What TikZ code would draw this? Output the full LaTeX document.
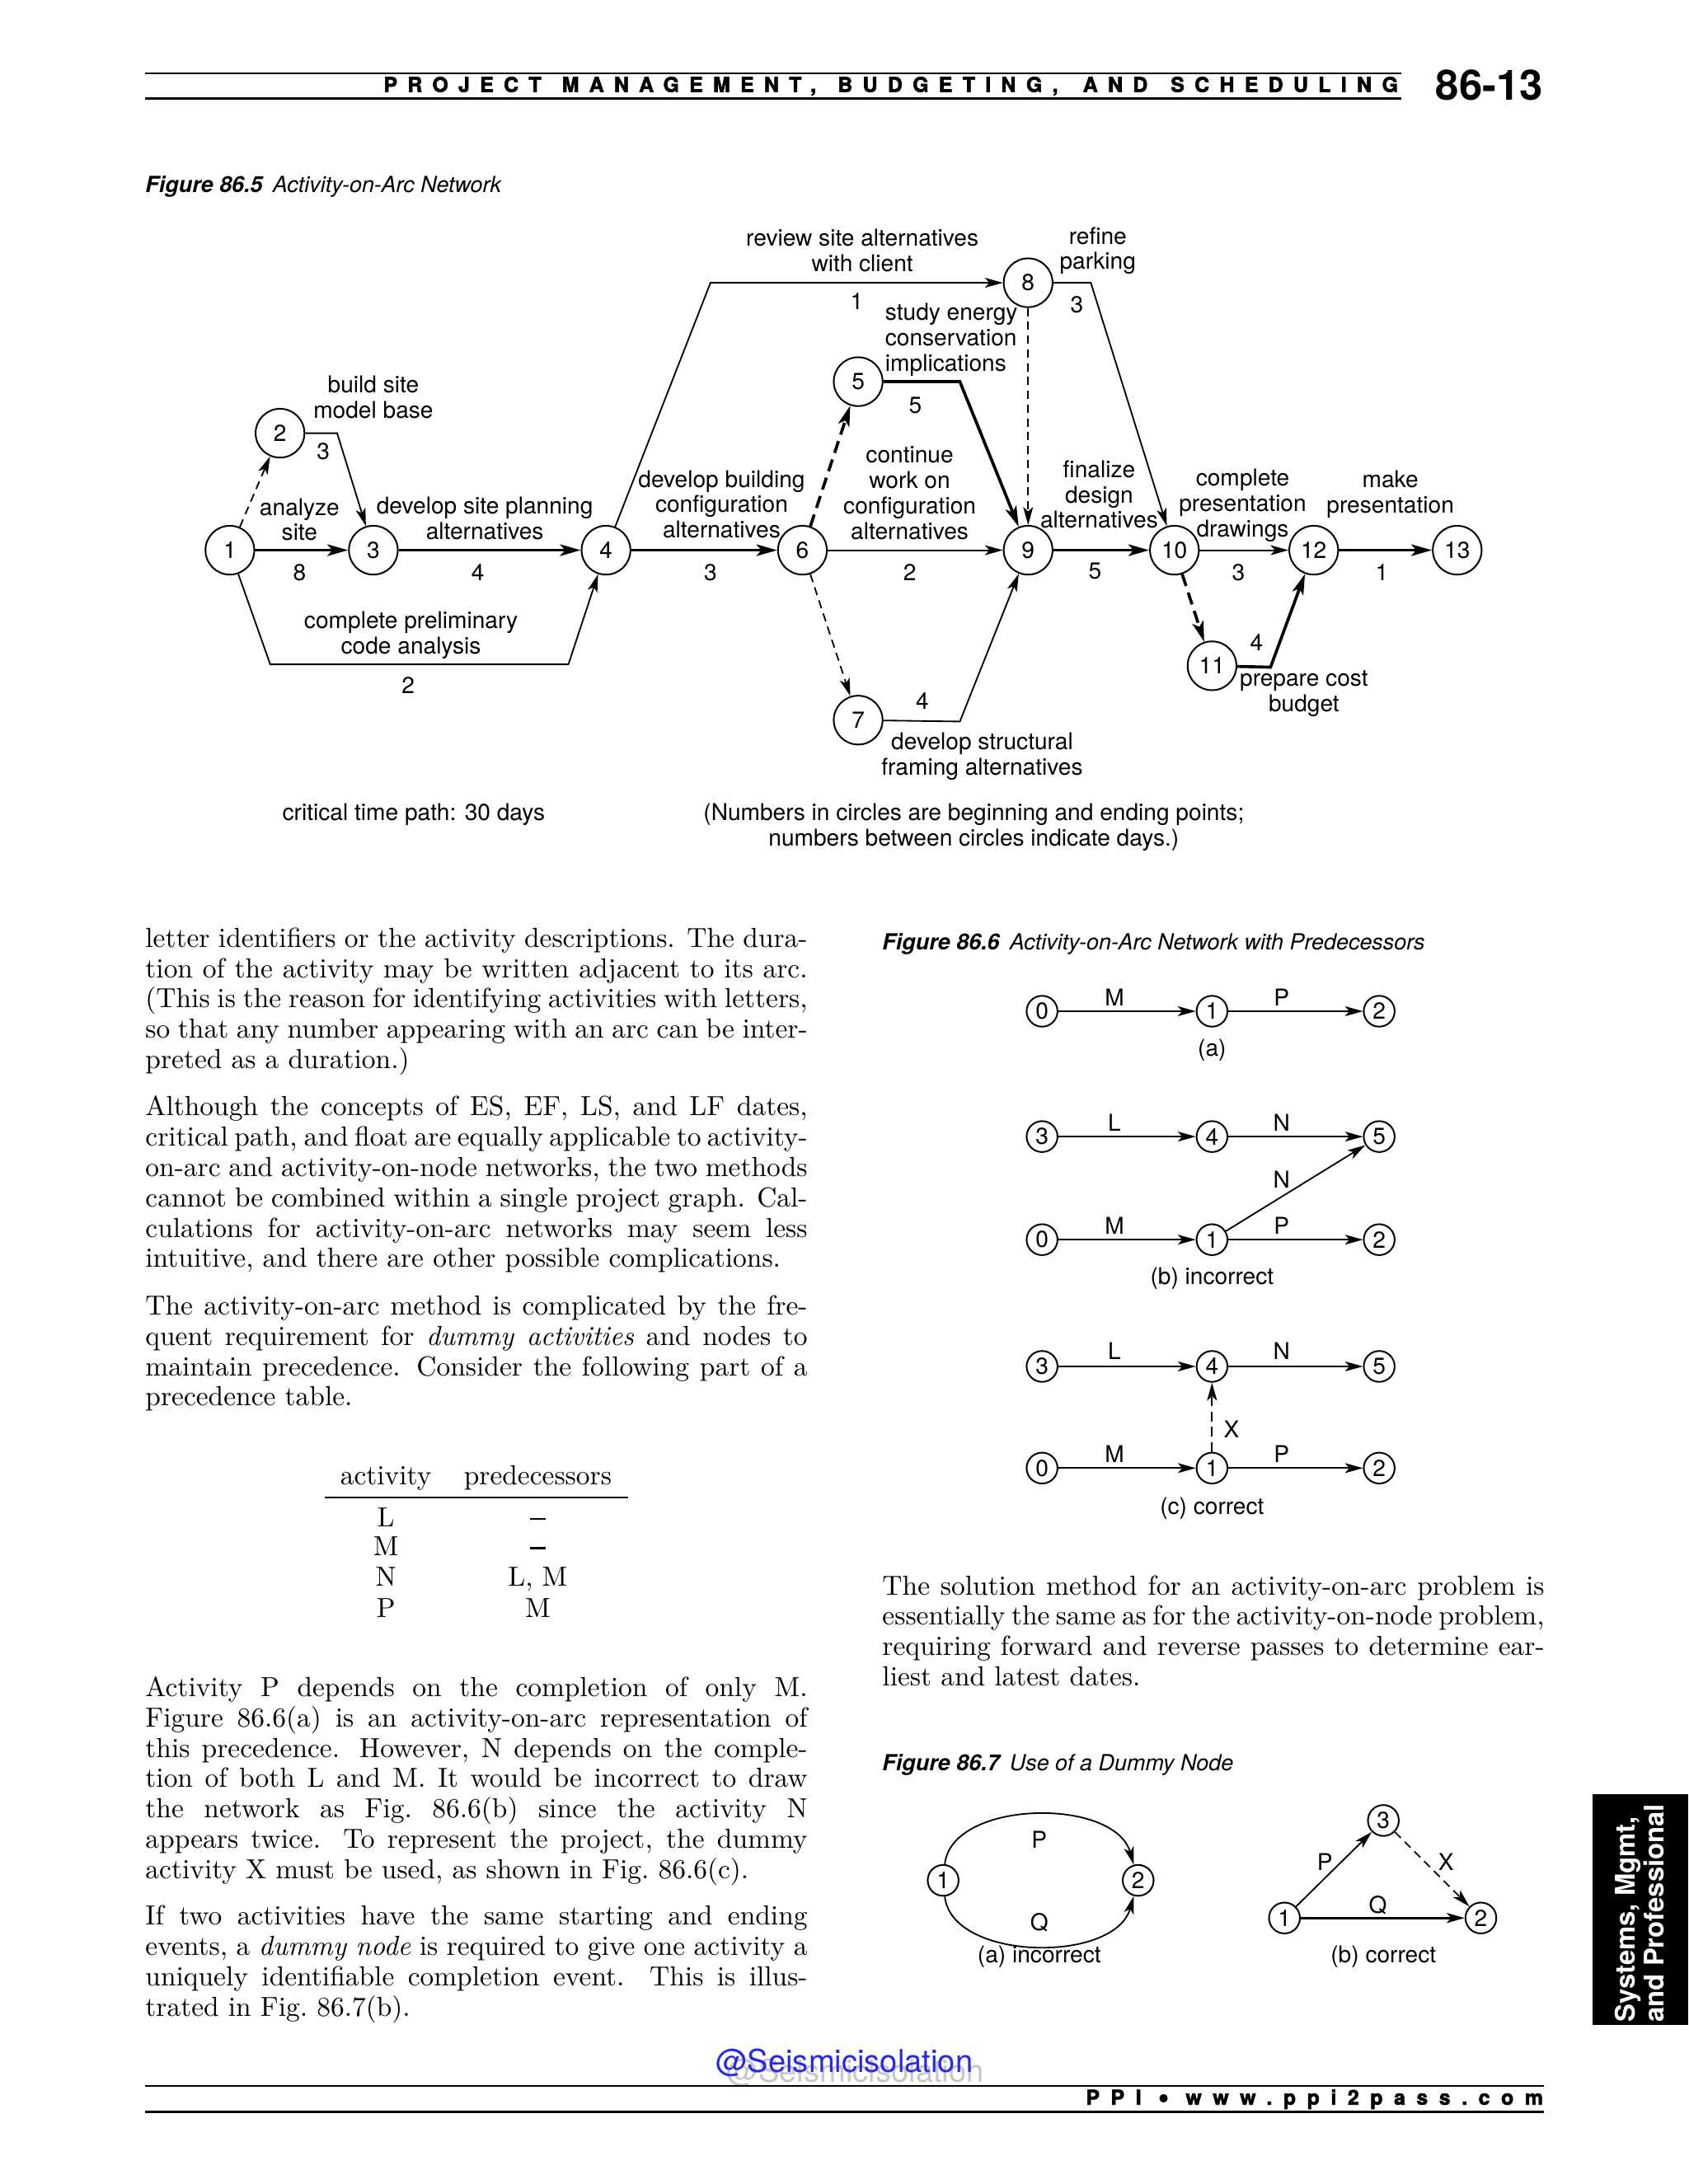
\documentclass[tikz,border=0pt]{standalone}
\usepackage{fontspec}
\usetikzlibrary{arrows.meta}
\newfontfamily\hv{TeX Gyre Heros}
\newfontfamily\hvls{TeX Gyre Heros}[LetterSpace=50,FakeBold=2.5]
\newfontfamily\hvlsf{TeX Gyre Heros}[LetterSpace=55,FakeBold=2.5]
\newcommand\lblf{\hv\fontsize{8.4}{9.2}\selectfont}
\newcommand\capf{\hv\fontsize{8.05}{9.6}\selectfont}
\newcommand\hdrf{\hvls\bfseries\fontsize{7.4}{8}\selectfont}
\newcommand\ftrf{\hvlsf\bfseries\fontsize{7.4}{8}\selectfont}
\newcommand\JL[1]{\hbox to 240pt{#1}}
\newcommand\LL[1]{\hbox to 240pt{#1\hfil}}
\newcommand\para[1]{\vtop{\fontsize{10}{11}\selectfont\baselineskip=11pt #1}}
\newcommand\tdash{\rule[2.4pt]{5.5pt}{0.8pt}}
\definecolor{wmblue}{RGB}{40,40,230}
\begin{document}
\begin{tikzpicture}[x=0.505pt,y=-0.505pt,
  ev/.style={circle,draw,line width=0.6pt,minimum size=17.7pt,inner sep=0pt,font=\lblf},
  sev/.style={circle,draw,line width=0.6pt,minimum size=11.2pt,inner sep=0pt,font=\lblf},
  lbl/.style={font=\lblf,align=center,inner sep=0pt},
  arr/.style={-{Stealth[length=6.5pt,width=3.6pt,inset=1.6pt]}},
  carr/.style={-{Stealth[length=7.5pt,width=4.2pt,inset=1.8pt]}},
  act/.style={line width=0.55pt,arr},
  crit/.style={line width=1.1pt,carr},
  dum/.style={act,dash pattern=on 3pt off 2pt},
  cdum/.style={crit,dash pattern=on 4.5pt off 2.5pt},
  body/.style={anchor=base west,inner sep=0pt},
  tab/.style={anchor=base,inner sep=0pt,font=\fontsize{10}{11}\selectfont},
  hw/.style={anchor=base west,inner sep=0pt,font=\hdrf}
]
\fill[white] (0,0) rectangle (1212,1568);
\path[use as bounding box] (0,0) rectangle (1212,1568);

% ---------- header ----------
\draw[line width=0.6pt] (104,52.5) -- (1006,52.5);
\draw[line width=0.85pt] (104,70.5) -- (1006,70.5);
\node[hw] (hw1) at (275,66) {PROJECT};
\node[hw] (hw2) at (403,66) {MANAGEMENT,};
\node[hw] (hw3) at (601,66) {BUDGETING,};
\node[hw] (hw4) at (777,66) {AND};
\node[hw] (hw5) at (840,66) {SCHEDULING};
\node[anchor=base east,inner sep=0pt,font=\hv\bfseries\fontsize{15.2}{16}\selectfont] (pg) at (1108,72) {86-13};

% ---------- Figure 86.5 ----------
\node[anchor=base west,inner sep=0pt,font=\capf] (cap5) at (104,138) {{\bfseries\itshape Figure 86.5}\hspace{0.45em}{\itshape Activity-on-Arc Network}};

\node[ev] (n1) at (165,395) {1};
\node[ev] (n2) at (201,311) {2};
\node[ev] (n3) at (268,395) {3};
\node[ev] (n4) at (435,395) {4};
\node[ev] (n5) at (616,274) {5};
\node[ev] (n6) at (576,395) {6};
\node[ev] (n7) at (616,517) {7};
\node[ev] (n8) at (738,203) {8};
\node[ev] (n9) at (738,395) {9};
\node[ev] (n10) at (843,395) {10};
\node[ev] (n11) at (870,478) {11};
\node[ev] (n12) at (943,395) {12};
\node[ev] (n13) at (1046,395) {13};

\coordinate (c23) at (242,311);
\coordinate (c14a) at (194,477);
\coordinate (c14b) at (408,477);
\coordinate (c48) at (510,203);
\coordinate (c59) at (689,274);
\coordinate (c79) at (689,518);
\coordinate (c810) at (783,203);
\coordinate (c1112) at (912,479);

\draw[dum] (n1) -- (n2);
\draw[act] (n2) -- (c23) -- (n3);
\draw[crit] (n1) -- (n3);
\draw[act] (n1) -- (c14a) -- (c14b) -- (n4);
\draw[crit] (n3) -- (n4);
\draw[crit] (n4) -- (n6);
\draw[act] (n4) -- (c48) -- (n8);
\draw[cdum] (n6) -- (n5);
\draw[dum] (n6) -- (n7);
\draw[act] (n6) -- (n9);
\draw[crit] (n5) -- (c59) -- (n9);
\draw[act] (n7) -- (c79) -- (n9);
\draw[dum] (n8) -- (n9);
\draw[act] (n8) -- (c810) -- (n10);
\draw[crit] (n9) -- (n10);
\draw[act] (n10) -- (n12);
\draw[cdum] (n10) -- (n11);
\draw[crit] (n11) -- (c1112) -- (n12);
\draw[crit] (n12) -- (n13);

\node[lbl] (t23) at (268,285) {build site\\model base};
\node[lbl] (d23) at (232,324) {3};
\node[lbl] (t13) at (215,373) {analyze\\site};
\node[lbl] (d13) at (215,411) {8};
\node[lbl] (t34) at (348,372) {develop site planning\\alternatives};
\node[lbl] (d34) at (343,411) {4};
\node[lbl] (t14) at (295,456) {complete preliminary\\code analysis};
\node[lbl] (d14) at (293,492) {2};
\node[lbl] (t48) at (619,180) {review site alternatives\\with client};
\node[lbl] (d48) at (615,216) {1};
\node[lbl] (t46) at (518,362) {develop building\\configuration\\alternatives};
\node[lbl] (d46) at (510,411) {3};
\node[lbl,align=left,anchor=west] (t59) at (635,244) {study energy\\conservation\\implications};
\node[lbl] (d59) at (657,291) {5};
\node[lbl] (t69) at (653,354) {continue\\work on\\configuration\\alternatives};
\node[lbl] (d69) at (653,411) {2};
\node[lbl] (d79) at (662,503) {4};
\node[lbl] (t79) at (705,543) {develop structural\\framing alternatives};
\node[lbl] (t810) at (788,180) {refine\\parking};
\node[lbl] (d810) at (773,219) {3};
\node[lbl] (t910) at (789,355) {finalize\\design\\alternatives};
\node[lbl] (d910) at (786,410) {5};
\node[lbl] (t1012) at (892,363) {complete\\presentation\\drawings};
\node[lbl] (d1012) at (889,411) {3};
\node[lbl] (d1112) at (902,461) {4};
\node[lbl] (t1112) at (936,498) {prepare cost\\budget};
\node[lbl] (t1213) at (998,355) {make\\presentation};
\node[lbl] (d1213) at (992,411) {1};
\node[lbl] (crit) at (297,585) {critical time path: 30 days};
\node[lbl] (note) at (699,594) {(Numbers in circles are beginning and ending points;\\numbers between circles indicate days.)};

% ---------- left column text ----------
\node[body] (p1) at (104,680) {\para{%
\JL{letter identifiers or the activity descriptions. The dura-}
\JL{tion of the activity may be written adjacent to its arc.}
\JL{(This is the reason for identifying activities with letters,}
\JL{so that any number appearing with an arc can be inter-}
\LL{preted as a duration.)}}};
\node[body] (p2) at (104,801) {\para{%
\JL{Although the concepts of ES, EF, LS, and LF dates,}
\JL{critical path, and float are equally applicable to activity-}
\JL{on-arc and activity-on-node networks, the two methods}
\JL{cannot be combined within a single project graph. Cal-}
\JL{culations for activity-on-arc networks may seem less}
\LL{intuitive, and there are other possible complications.}}};
\node[body] (p3) at (104,944) {\para{%
\JL{The activity-on-arc method is complicated by the fre-}
\JL{quent requirement for \textit{dummy activities} and nodes to}
\JL{maintain precedence. Consider the following part of a}
\LL{precedence table.}}};

\node[tab] (th1) at (277,1066) {activity};
\node[tab] (th2) at (386,1066) {predecessors};
\draw[line width=0.7pt] (233,1075) -- (451,1075);
\node[tab] (r1a) at (277,1096) {L};
\node[tab] (r1b) at (386,1096) {\tdash};
\node[tab] (r2a) at (277,1117) {M};
\node[tab] (r2b) at (386,1117) {\tdash};
\node[tab] (r3a) at (277,1139) {N};
\node[tab] (r3b) at (386,1139) {L, M};
\node[tab] (r4a) at (277,1161) {P};
\node[tab] (r4b) at (386,1161) {M};

\node[body] (p4) at (104,1218) {\para{%
\JL{Activity P depends on the completion of only M.}
\JL{Figure 86.6(a) is an activity-on-arc representation of}
\JL{this precedence. However, N depends on the comple-}
\JL{tion of both L and M. It would be incorrect to draw}
\JL{the network as Fig.\ 86.6(b) since the activity N}
\JL{appears twice. To represent the project, the dummy}
\LL{activity X must be used, as shown in Fig.\ 86.6(c).}}};
\node[body] (p5) at (104,1382) {\para{%
\JL{If two activities have the same starting and ending}
\JL{events, a \textit{dummy node} is required to give one activity a}
\JL{uniquely identifiable completion event. This is illus-}
\LL{trated in Fig.\ 86.7(b).}}};

% ---------- Figure 86.6 ----------
\node[anchor=base west,inner sep=0pt,font=\capf] (cap6) at (633,682) {{\bfseries\itshape Figure 86.6}\hspace{0.45em}{\itshape Activity-on-Arc Network with Predecessors}};

\node[sev] (a0) at (748,726) {0};
\node[sev] (a1) at (870,726) {1};
\node[sev] (a2) at (990,726) {2};
\draw[act] (a0) -- (a1);
\draw[act] (a1) -- (a2);
\node[lbl] (aM) at (800,716) {M};
\node[lbl] (aP) at (920,716) {P};
\node[lbl] (acap) at (870,754) {(a)};

\node[sev] (b3) at (748,816) {3};
\node[sev] (b4) at (870,816) {4};
\node[sev] (b5) at (990,816) {5};
\node[sev] (b0) at (748,890) {0};
\node[sev] (b1) at (870,890) {1};
\node[sev] (b2) at (990,890) {2};
\draw[act] (b3) -- (b4);
\draw[act] (b4) -- (b5);
\draw[act] (b0) -- (b1);
\draw[act] (b1) -- (b2);
\draw[act] (b1) -- (b5);
\node[lbl] (bL) at (800,806) {L};
\node[lbl] (bN) at (920,806) {N};
\node[lbl] (bN2) at (920,847) {N};
\node[lbl] (bM) at (800,880) {M};
\node[lbl] (bP) at (920,880) {P};
\node[lbl] (bcap) at (870,918) {(b) incorrect};

\node[sev] (c3) at (748,981) {3};
\node[sev] (c4) at (870,981) {4};
\node[sev] (c5) at (990,981) {5};
\node[sev] (c0) at (748,1054) {0};
\node[sev] (c1) at (870,1054) {1};
\node[sev] (c2) at (990,1054) {2};
\draw[act] (c3) -- (c4);
\draw[act] (c4) -- (c5);
\draw[act] (c0) -- (c1);
\draw[act] (c1) -- (c2);
\draw[act,dash pattern=on 3.5pt off 2pt] (c1) -- (c4);
\node[lbl] (cL) at (800,970) {L};
\node[lbl] (cN) at (920,970) {N};
\node[lbl] (cX) at (884,1026) {X};
\node[lbl] (cM) at (800,1044) {M};
\node[lbl] (cP) at (920,1044) {P};
\node[lbl] (ccap) at (870,1083) {(c) correct};

% ---------- right column text ----------
\node[body] (p6) at (633,1145) {\para{%
\JL{The solution method for an activity-on-arc problem is}
\JL{essentially the same as for the activity-on-node problem,}
\JL{requiring forward and reverse passes to determine ear-}
\LL{liest and latest dates.}}};

% ---------- Figure 86.7 ----------
\node[anchor=base west,inner sep=0pt,font=\capf] (cap7) at (633,1271) {{\bfseries\itshape Figure 86.7}\hspace{0.45em}{\itshape Use of a Dummy Node}};

\node[sev] (d1) at (677,1350) {1};
\node[sev] (d2) at (817,1350) {2};
\draw[act] (d1) .. controls (683,1292) and (800,1290) .. (d2);
\draw[act] (d1) .. controls (683,1408) and (800,1410) .. (d2);
\node[lbl] (dP) at (746,1321) {P};
\node[lbl] (dQ) at (746,1380) {Q};
\node[lbl] (dcap) at (746,1405) {(a) incorrect};

\node[sev] (e3) at (993,1307) {3};
\node[sev] (e1) at (922,1377) {1};
\node[sev] (e2) at (1063,1377) {2};
\draw[act] (e1) -- (e3);
\draw[dum] (e3) -- (e2);
\draw[act,line width=0.8pt] (e1) -- (e2);
\node[lbl] (eP) at (951,1337) {P};
\node[lbl] (eX) at (1038,1337) {X};
\node[lbl] (eQ) at (989,1368) {Q};
\node[lbl] (ecap) at (993,1405) {(b) correct};

% ---------- side tab ----------
\fill[black] (1143,1288) rectangle (1212,1454);
\node[rotate=90,anchor=west,inner sep=0pt,align=left,text=white,font=\hv\bfseries\fontsize{9.8}{10.6}\selectfont] (tabt) at (1177,1452) {Systems, Mgmt,\\and Professional};

% ---------- footer ----------
\node[font=\hv\fontsize{11.4}{12}\selectfont,text=black!22,inner sep=0pt] (wm2) at (614,1488) {@Seismicisolation};
\node[font=\hv\fontsize{11.4}{12}\selectfont,text=wmblue,inner sep=0pt] (wm) at (606,1481) {@Seismicisolation};
\draw[line width=0.6pt] (104,1497.5) -- (1108,1497.5);
\draw[line width=0.85pt] (104,1516) -- (1108,1516);
\node[anchor=base east,inner sep=0pt,font=\ftrf] (ftr) at (1108,1511) {PPI {\fontsize{11}{11}\selectfont\raisebox{-1pt}{•}} www.ppi2pass.com};
\end{tikzpicture}
\end{document}
